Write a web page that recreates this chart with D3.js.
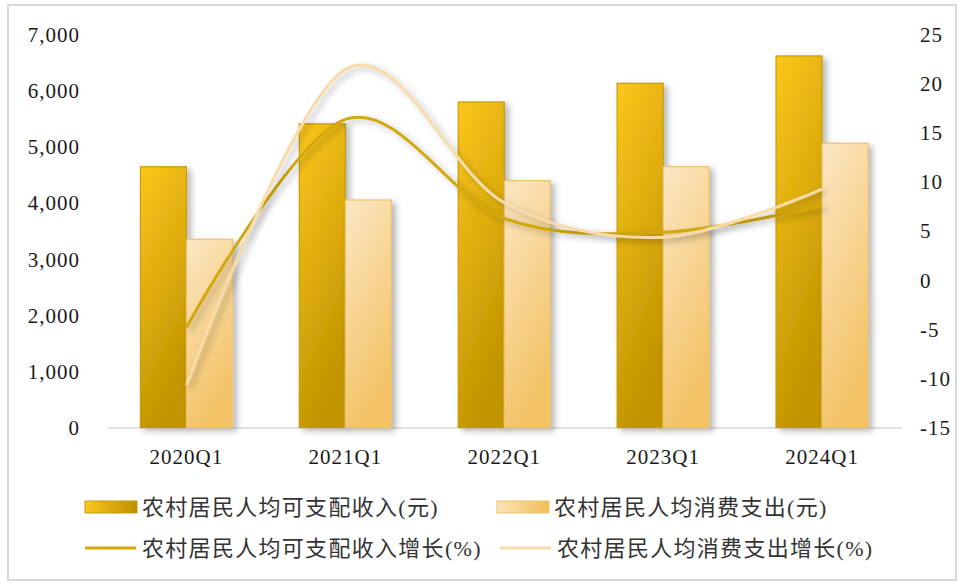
<!DOCTYPE html>
<html>
<head>
<meta charset="utf-8">
<script src="https://cdn.jsdelivr.net/npm/d3@7"></script>
<style>
  body { margin: 0; background: #fff; }
  svg { display: block; }
</style>
</head>
<body>
<svg width="958" height="583"></svg>
<script>
// data
var quarters = ["2020Q1", "2021Q1", "2022Q1", "2023Q1", "2024Q1"];
var income = [4650, 5415, 5805, 6139, 6626];       // 农村居民人均可支配收入(元)
var spending = [3356, 4057, 4402, 4651, 5069];     // 农村居民人均消费支出(元)
var incomeGrowth = [-4.8, 16.4, 6.3, 4.9, 7.6];    // 增长(%)
var spendingGrowth = [-10.7, 21.5, 7.9, 4.4, 9.3];
var leftTicks = [0, 1000, 2000, 3000, 4000, 5000, 6000, 7000];
var rightTicks = [-15, -10, -5, 0, 5, 10, 15, 20, 25];
var names = ["农村居民人均可支配收入(元)", "农村居民人均消费支出(元)",
             "农村居民人均可支配收入增长(%)", "农村居民人均消费支出增长(%)"];

var svg = d3.select("svg");
var serif = "'Liberation Serif', 'Times New Roman', serif";
var cjk = "'Liberation Serif', 'Noto Sans CJK SC', serif";

// frame
svg.append("rect")
  .attr("x", 8).attr("y", 5).attr("width", 948).attr("height", 575)
  .attr("fill", "#fff").attr("stroke", "#d9d9d9").attr("stroke-width", 2);

var defs = svg.append("defs");
function grad(id, c0, c1, vertical) {
  var g = defs.append("linearGradient").attr("id", id)
    .attr("x1", 0).attr("y1", 0)
    .attr("x2", vertical ? 0.35 : 1).attr("y2", vertical ? 1 : 0);
  g.append("stop").attr("offset", "0%").attr("stop-color", c0);
  g.append("stop").attr("offset", "100%").attr("stop-color", c1);
}
grad("gInc", "#fbc71c", "#c29400", true);
grad("gSpd", "#fce7c4", "#f3c366", true);
grad("gIncL", "#fac720", "#bd8f00", false);
grad("gSpdL", "#fbe4b9", "#f1bd58", false);

var f = defs.append("filter").attr("id", "shadow")
  .attr("x", "-30%").attr("y", "-10%").attr("width", "170%").attr("height", "130%");
f.append("feDropShadow").attr("dx", 4).attr("dy", 3).attr("stdDeviation", 3)
  .attr("flood-color", "#000").attr("flood-opacity", 0.28);

// scales
var x0 = d3.scaleBand().domain(quarters).range([107, 901.5]).paddingInner(0);
var x1 = d3.scaleBand().domain([0, 1]).range([0, x0.bandwidth()]).paddingInner(0).paddingOuter(0.727);
var yL = d3.scaleLinear().domain([0, 7000]).range([427.5, 35]);
var yR = d3.scaleLinear().domain([-15, 25]).range([427.5, 35]);

// axes (labels only, no tick marks)
var axL = svg.append("g").attr("transform", "translate(80,0)")
  .call(d3.axisLeft(yL).tickValues(leftTicks).tickSize(0).tickPadding(0).tickFormat(d3.format(",")));
var axR = svg.append("g").attr("transform", "translate(920,0)")
  .call(d3.axisRight(yR).tickValues(rightTicks).tickSize(0).tickPadding(0)
    .tickFormat(function(d) { return String(d); }));
[axL, axR].forEach(function(a) {
  a.select(".domain").remove();
  a.selectAll("text").attr("font-family", serif).attr("font-size", 21)
    .attr("letter-spacing", 1).attr("fill", "#1a1a1a");
});

var axX = svg.append("g").attr("transform", "translate(0,427.5)")
  .call(d3.axisBottom(x0).tickSize(0).tickPadding(22));
axX.select(".domain").attr("stroke", "#d9d9d9").attr("stroke-width", 1.5);
axX.selectAll("text").attr("font-family", serif).attr("font-size", 21)
  .attr("letter-spacing", 1).attr("fill", "#1a1a1a");

// bars
var groups = svg.append("g").selectAll("g").data(quarters).join("g")
  .attr("transform", function(d) { return "translate(" + x0(d) + ",0)"; });

groups.append("rect")
  .attr("x", x1(0)).attr("width", x1.bandwidth())
  .attr("y", function(d, i) { return yL(income[i]); })
  .attr("height", function(d, i) { return yL(0) - yL(income[i]); })
  .attr("fill", "url(#gInc)").attr("stroke", "#c49c08").attr("stroke-width", 1.2)
  .attr("filter", "url(#shadow)");

groups.append("rect")
  .attr("x", x1(1)).attr("width", x1.bandwidth())
  .attr("y", function(d, i) { return yL(spending[i]); })
  .attr("height", function(d, i) { return yL(0) - yL(spending[i]); })
  .attr("fill", "url(#gSpd)").attr("stroke", "#eec36c").attr("stroke-width", 1.2)
  .attr("filter", "url(#shadow)");

// growth lines
var cx = function(d, i) { return x0(quarters[i]) + x0.bandwidth() / 2; };
var line = d3.line().x(cx).y(function(d) { return yR(d); }).curve(d3.curveCardinal.tension(0));

svg.append("path").datum(incomeGrowth)
  .attr("d", line).attr("fill", "none")
  .attr("stroke", "#d2a80c").attr("stroke-width", 3).attr("filter", "url(#shadow)");
svg.append("path").datum(spendingGrowth)
  .attr("d", line).attr("fill", "none")
  .attr("stroke", "#f7dcaa").attr("stroke-width", 3).attr("filter", "url(#shadow)");

// legend
var legend = [
  { x: 85, y: 507, type: "bar", fill: "url(#gIncL)", stroke: "#c49c08" },
  { x: 497, y: 507, type: "bar", fill: "url(#gSpdL)", stroke: "#eec36c" },
  { x: 85, y: 548, type: "line", stroke: "#d2a80c" },
  { x: 500, y: 548, type: "line", stroke: "#f7dcaa" }
];
var lg = svg.append("g").selectAll("g").data(legend).join("g")
  .attr("transform", function(d) { return "translate(" + d.x + "," + d.y + ")"; });
lg.each(function(d) {
  var g = d3.select(this);
  if (d.type === "bar") {
    g.append("rect").attr("x", 0).attr("y", -6).attr("width", 52).attr("height", 12)
      .attr("fill", d.fill).attr("stroke", d.stroke).attr("stroke-width", 1);
  } else {
    g.append("line").attr("x1", 0).attr("x2", 51).attr("y1", 0).attr("y2", 0)
      .attr("stroke", d.stroke).attr("stroke-width", 3);
  }
});
lg.append("text")
  .attr("x", 57).attr("y", 0).attr("dy", "0.35em")
  .attr("font-family", cjk).attr("font-size", 22).attr("letter-spacing", 1.3)
  .attr("fill", "#333")
  .text(function(d, i) { return names[i]; });
</script>
</body>
</html>
